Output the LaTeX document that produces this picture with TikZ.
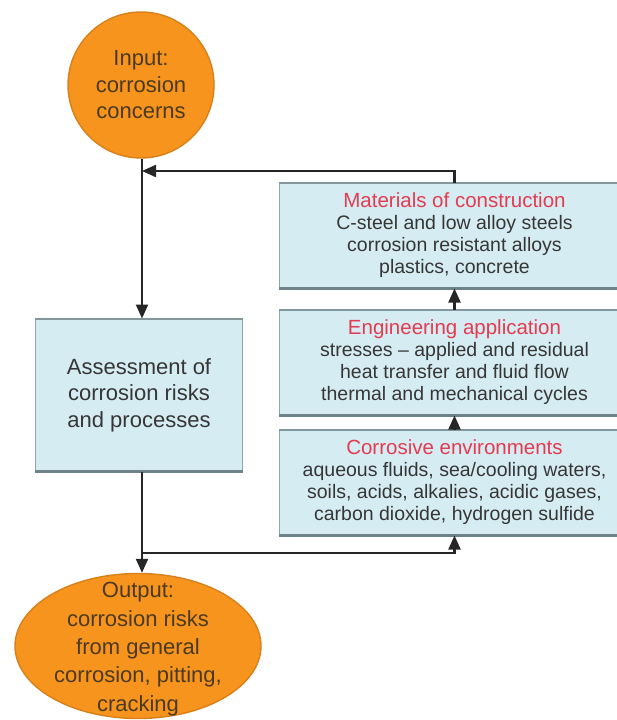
\documentclass[tikz,border=0pt]{standalone}
\usepackage{fontspec}
\setmainfont{Liberation Sans}
\usetikzlibrary{arrows.meta,shapes.geometric}

\definecolor{orangefill}{HTML}{F7941E}
\definecolor{orangeedge}{HTML}{D8801A}
\definecolor{orangetext}{HTML}{4B3A22}
\definecolor{boxfill}{HTML}{D6ECF3}
\definecolor{boxedge}{HTML}{8FA6AB}
\definecolor{boxshade}{HTML}{6D8389}
\definecolor{headred}{HTML}{E43B50}
\definecolor{bodytext}{HTML}{363636}
\definecolor{linkcol}{HTML}{262626}

\begin{document}
\begin{tikzpicture}[x=1pt,y=-1pt,
  terminal/.style={fill=orangefill, draw=orangeedge, line width=1.4pt, inner sep=0pt},
  termtext/.style={text=orangetext, align=center, inner sep=0pt},
  infobox/.style={rectangle, fill=boxfill, draw=boxedge, line width=1pt,
                  text=bodytext, align=center, inner sep=0pt},
  shade/.style={draw=boxshade, line width=3pt},
  rim/.style={draw=boxshade!85!white, line width=2pt},
  link/.style={draw=linkcol, line width=2.1pt},
  arrow/.style={link, -{Triangle[length=14pt,width=12pt]}},
  bodyfont/.style={font=\fontsize{19.5}{22}\selectfont},
  bigfont/.style={font=\fontsize{22}{26.5}\selectfont},
]
\useasboundingbox (0,0) rectangle (617,720);
\clip (0,0) rectangle (617,720);
\fill[white] (0,0) rectangle (617,720);

% start and end terminals
\node[terminal, circle, minimum size=146pt] (in) at (141,85) {};
\node[termtext, bigfont] (intext) at (in.center) {Input:\\corrosion\\concerns};

\node[terminal, ellipse, minimum width=246pt, minimum height=145pt] (out) at (138,646) {};
\node[termtext, font=\fontsize{22}{28.3}\selectfont] (outtext) at ([yshift=-3pt]out.center)
  {Output:\\corrosion risks\\from general\\corrosion, pitting,\\cracking};

% assessment step
\node[infobox, bigfont, minimum width=207pt, minimum height=152pt] (assess) at (139,395)
  {Assessment of\\corrosion risks\\and processes};

% the three input boxes on the right
\node[infobox, bodyfont, minimum width=351pt, minimum height=105pt] (mat) at (454.5,235.5)
  {{\color{headred}\fontsize{20.5}{22}\selectfont Materials of construction}\\
   C-steel and low alloy steels\\corrosion resistant alloys\\plastics, concrete};
\node[infobox, bodyfont, minimum width=351pt, minimum height=105pt] (eng) at (454.5,362.5)
  {{\color{headred}\fontsize{20.5}{22}\selectfont Engineering application}\\
   stresses -- applied and residual\\heat transfer and fluid flow\\thermal and mechanical cycles};
\node[infobox, bodyfont, minimum width=351pt, minimum height=105pt] (env) at (454.5,482.5)
  {{\color{headred}\fontsize{20.5}{25}\selectfont Corrosive environments}\\
   aqueous fluids, sea/cooling waters,\\soils, acids, alkalies, acidic gases,\\carbon dioxide, hydrogen sulfide};

% heavier upper rim and darker lower edge on each box
\foreach \b in {assess,mat,eng,env}{
  \draw[rim] (\b.north west) -- (\b.north east);
  \draw[shade] (\b.south west) -- (\b.south east);
}

% junction points of the loop
\coordinate (topjoin) at (142,171);
\coordinate (botjoin) at (142,553);

% connectors
\draw[arrow] (in.south -| topjoin) -- (topjoin |- assess.north);
\draw[arrow] (mat.north) |- (topjoin);
\draw[arrow] (eng.north) -- (mat.south);
\draw[arrow] (env.north) -- (eng.south);
\draw[arrow] (assess.south -| botjoin) -- (botjoin |- out.north);
\draw[arrow] (botjoin) -| (env.south);
\end{tikzpicture}
\end{document}
